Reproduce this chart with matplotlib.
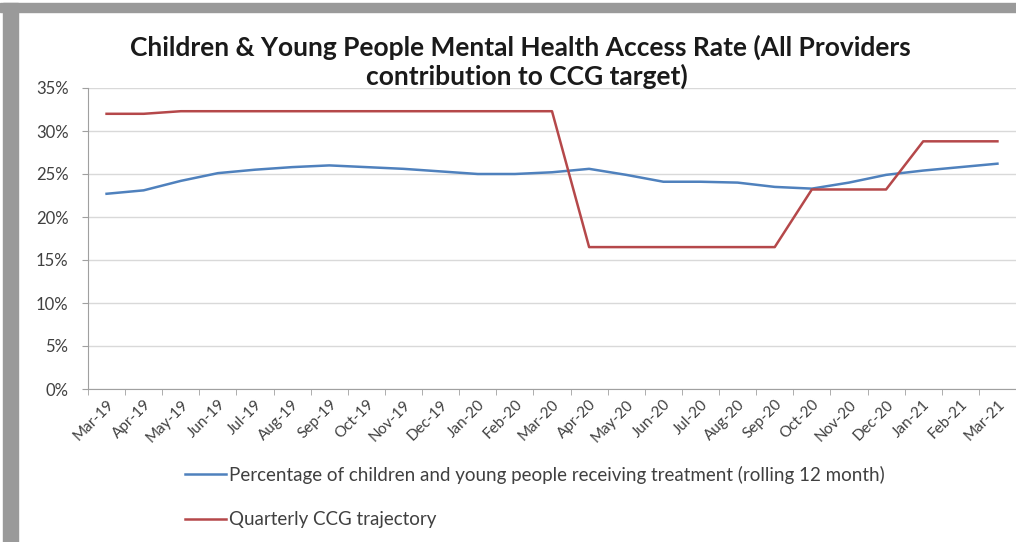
import matplotlib
matplotlib.use("Agg")
from matplotlib import pyplot as plt
from matplotlib.patches import Rectangle
from matplotlib.ticker import FixedLocator, PercentFormatter

months = ["Mar-19", "Apr-19", "May-19", "Jun-19", "Jul-19", "Aug-19", "Sep-19",
          "Oct-19", "Nov-19", "Dec-19", "Jan-20", "Feb-20", "Mar-20", "Apr-20",
          "May-20", "Jun-20", "Jul-20", "Aug-20", "Sep-20", "Oct-20", "Nov-20",
          "Dec-20", "Jan-21", "Feb-21", "Mar-21"]

# percentage receiving treatment (rolling 12 month)
access_rate = [22.7, 23.1, 24.2, 25.1, 25.5, 25.8, 26.0, 25.8, 25.6, 25.3, 25.0, 25.0,
               25.2, 25.6, 24.9, 24.1, 24.1, 24.0, 23.5, 23.3, 24.0, 24.9, 25.4, 25.8, 26.2]
# quarterly CCG trajectory
trajectory = [32.0, 32.0, 32.3, 32.3, 32.3, 32.3, 32.3, 32.3, 32.3, 32.3, 32.3, 32.3,
              32.3, 16.5, 16.5, 16.5, 16.5, 16.5, 16.5, 23.2, 23.2, 23.2, 28.8, 28.8, 28.8]

blue = "#4F81BD"
red = "#B5484A"
txt = "#404040"

plt.rcParams["font.family"] = ["Lato", "DejaVu Sans"]

fig = plt.figure(figsize=(10.16, 5.42), dpi=100)
fig.patch.set_facecolor("white")

# grey frame of the pasted chart
fig.patches.append(Rectangle((0, 1 - 12 / 542), 1, 9 / 542, transform=fig.transFigure,
                             color="#9a9a9a", zorder=0))
fig.patches.append(Rectangle((3 / 1016, 0), 15 / 1016, 1 - 3 / 542, transform=fig.transFigure,
                             color="#9a9a9a", zorder=0))

ax = fig.add_axes([88 / 1016, 1 - 389 / 542, 928 / 1016, 301 / 542])
x = list(range(len(months)))
l1, = ax.plot(x, access_rate, color=blue, lw=1.8,
              label="Percentage of children and young people receiving treatment (rolling 12 month)")
l2, = ax.plot(x, trajectory, color=red, lw=1.8, label="Quarterly CCG trajectory")

ax.set_xlim(-0.5, len(months) - 0.5)
ax.set_ylim(0, 35)
ax.yaxis.set_major_locator(FixedLocator([0, 5, 10, 15, 20, 25, 30, 35]))
ax.yaxis.set_major_formatter(PercentFormatter(decimals=0))
ax.grid(axis="y", color="#d9d9d9", lw=1)
ax.set_axisbelow(True)

ax.set_xticks(x)
ax.set_xticklabels(months, rotation=45, ha="right", rotation_mode="anchor",
                   fontsize=11, color=txt)
ax.xaxis.set_minor_locator(FixedLocator([i - 0.5 for i in range(len(months) + 1)]))
ax.tick_params(axis="x", which="major", length=0, pad=6)
ax.tick_params(axis="x", which="minor", length=4, color="#a0a0a0")
ax.tick_params(axis="y", length=4, color="#a0a0a0", labelsize=12, labelcolor=txt, pad=10)

for s in ["top", "right"]:
    ax.spines[s].set_visible(False)
ax.spines["left"].set_color("#a0a0a0")
ax.spines["bottom"].set_color("#a0a0a0")

fig.text(0.512, 1 - 47 / 542, "Children & Young People Mental Health Access Rate (All Providers",
         ha="center", va="center", fontsize=19, fontweight="bold", color="#1a1a1a")
fig.text(0.519, 1 - 76 / 542, "contribution to CCG target)",
         ha="center", va="center", fontsize=19, fontweight="bold", color="#1a1a1a")

fig.legend(handles=[l1], loc="center left", bbox_to_anchor=(168 / 1016, 1 - 475 / 542),
           frameon=False, fontsize=13.5, labelcolor=txt, handlelength=2.2, handletextpad=0.15)
fig.legend(handles=[l2], loc="center left", bbox_to_anchor=(168 / 1016, 1 - 520 / 542),
           frameon=False, fontsize=13.5, labelcolor=txt, handlelength=2.2, handletextpad=0.15)

fig.savefig("out.png", dpi=100)
